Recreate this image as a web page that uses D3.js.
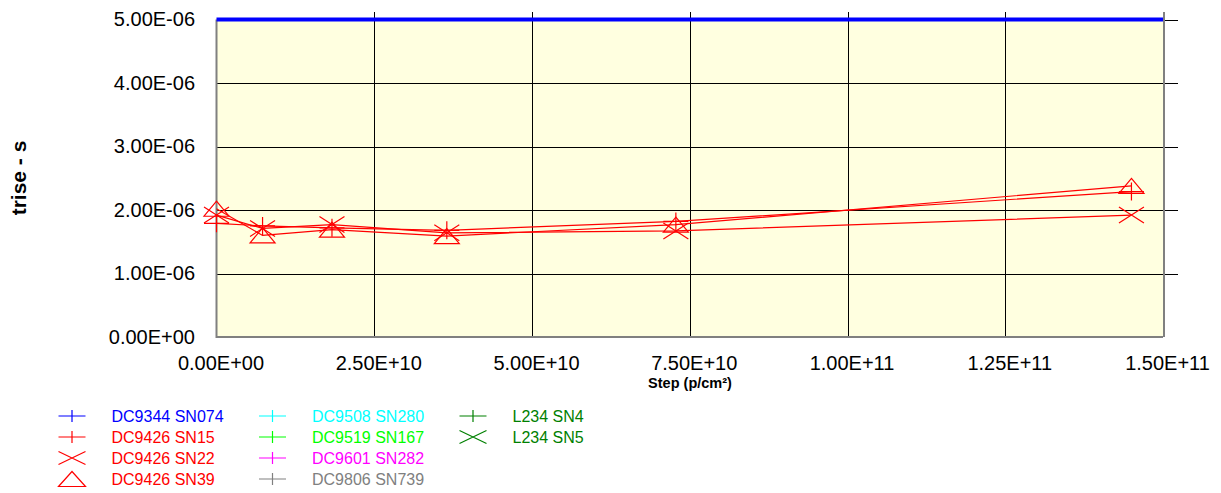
<!DOCTYPE html>
<html>
<head>
<meta charset="utf-8">
<script src="https://cdn.jsdelivr.net/npm/d3@7"></script>
<style>
  html, body { margin: 0; padding: 0; background: #fff; }
  svg { display: block; font-family: "Liberation Sans", Arial, sans-serif; }
</style>
</head>
<body>
<svg id="chart" width="1221" height="493"></svg>
<script>
// ---- data ----
const xSteps = [0, 7.3e9, 1.83e10, 3.65e10, 7.28e10, 1.45e11];
const sn15 = [1.79e-6, 1.75e-6, 1.72e-6, 1.68e-6, 1.82e-6, 2.29e-6];
const sn22 = [1.92e-6, 1.71e-6, 1.77e-6, 1.64e-6, 1.67e-6, 1.92e-6];
const sn39 = [2.02e-6, 1.60e-6, 1.69e-6, 1.59e-6, 1.77e-6, 2.38e-6];
const limitX = [0, 1.5e11];
const sn074 = [5e-6, 5e-6];

const xTicks = [0, 2.5e10, 5e10, 7.5e10, 1e11, 1.25e11, 1.5e11];
const yTicks = [0, 1e-6, 2e-6, 3e-6, 4e-6, 5e-6];

const legendNames = ["DC9344 SN074", "DC9426 SN15", "DC9426 SN22", "DC9426 SN39",
  "DC9508 SN280", "DC9519 SN167", "DC9601 SN282", "DC9806 SN739", "L234 SN4", "L234 SN5"];
const legendColors = ["#0000ff", "#ff0000", "#ff0000", "#ff0000",
  "#00ffff", "#00ff00", "#ff00ff", "#808080", "#008000", "#008000"];
const legendMarkers = ["plus", "plus", "cross", "tri", "plus", "plus", "plus", "plus", "plus", "cross"];

// ---- layout ----
const svg = d3.select("#chart");
const L = 216.5, R = 1163, T = 19.5, B = 337;
const x = d3.scaleLinear().domain([0, 1.5e11]).range([L, R]);
const y = d3.scaleLinear().domain([0, 5e-6]).range([B, T]);

function fmt(v) {
  const [m, e] = v.toExponential(2).split("e");
  const sign = e[0];
  const digits = e.slice(1).padStart(2, "0");
  return m + "E" + sign + digits;
}

// plot background
svg.append("rect").attr("x", L).attr("y", T).attr("width", R - L).attr("height", B - T)
  .attr("fill", "#ffffe0");

// horizontal gridlines + y labels
const yAxis = d3.axisLeft(y).tickValues(yTicks).tickFormat(fmt)
  .tickSizeInner(-(1178 - L)).tickSizeOuter(0).tickPadding(21.5);
const gy = svg.append("g").attr("transform", `translate(${L},0)`).call(yAxis);
gy.select(".domain").remove();
gy.selectAll(".tick line").attr("stroke", "#000").attr("stroke-width", 1)
  .attr("shape-rendering", "crispEdges")
  .filter(d => d === 0).remove();
gy.selectAll(".tick text").attr("font-size", 20).attr("fill", "#000")
  .attr("font-family", "Liberation Sans, Arial, sans-serif").attr("dy", "0.30em");

// vertical gridlines + x labels
const xAxis = d3.axisBottom(x).tickValues(xTicks).tickFormat(fmt)
  .tickSizeInner(-(B - 12)).tickSizeOuter(0).tickPadding(19);
const gx = svg.append("g").attr("transform", `translate(0,${B})`).call(xAxis);
gx.select(".domain").remove();
gx.selectAll(".tick line").attr("stroke", d => d === 1.5e11 ? "#808080" : "#000")
  .attr("stroke-width", d => d === 1.5e11 ? 2 : 1)
  .attr("shape-rendering", "crispEdges")
  .filter(d => d === 0).remove();
gx.selectAll(".tick text").attr("font-size", 20).attr("fill", "#000")
  .attr("font-family", "Liberation Sans, Arial, sans-serif").attr("dx", 4);

// left and bottom border
svg.append("path")
  .attr("d", `M${L},${T} V${B} H${R}`)
  .attr("fill", "none").attr("stroke", "#808080").attr("stroke-width", 2);

// ---- markers ----
function markerPath(type, cx, cy, w, h) {
  const hw = w / 2, hh = h / 2;
  if (type === "plus") return `M${cx - hw},${cy} H${cx + hw} M${cx},${cy - hh} V${cy + hh}`;
  if (type === "cross") return `M${cx - hw},${cy - hh} L${cx + hw},${cy + hh} M${cx - hw},${cy + hh} L${cx + hw},${cy - hh}`;
  return `M${cx},${cy - hh} L${cx + hw},${cy + hh} L${cx - hw},${cy + hh} Z`;
}

const series = [
  { vals: sn15, marker: "plus", h: 18 },
  { vals: sn22, marker: "cross", h: 16 },
  { vals: sn39, marker: "tri", h: 15 }
];

const line = d3.line().x(d => x(d[0])).y(d => y(d[1]));

series.forEach(s => {
  const pts = xSteps.map((xv, i) => [xv, s.vals[i]]);
  svg.append("path").attr("d", line(pts)).attr("fill", "none")
    .attr("stroke", "#ff0000").attr("stroke-width", 1.2);
  svg.append("g").selectAll("path").data(pts).join("path")
    .attr("d", d => markerPath(s.marker, x(d[0]), y(d[1]), 25, s.h))
    .attr("fill", "none").attr("stroke", "#ff0000").attr("stroke-width", 1.2);
});

// blue limit line
svg.append("path").attr("d", line(limitX.map((xv, i) => [xv, sn074[i]])))
  .attr("fill", "none").attr("stroke", "#0000ff").attr("stroke-width", 4);

// ---- axis titles ----
svg.append("text").attr("transform", "translate(26,178) rotate(-90)")
  .attr("text-anchor", "middle").attr("font-size", 21).attr("font-weight", "bold")
  .text("trise - s");
svg.append("text").attr("x", 690).attr("y", 388)
  .attr("text-anchor", "middle").attr("font-size", 14.5).attr("font-weight", "bold")
  .text("Step (p/cm²)");

// ---- legend ----
const lg = svg.append("g");
legendNames.forEach((name, i) => {
  const col = Math.floor(i / 4), row = i % 4;
  const mx = 72 + col * 200.5, cy = 416 + row * 21;
  const mh = legendMarkers[i] === "tri" ? 15 : (legendMarkers[i] === "cross" ? 13 : 12);
  lg.append("path").attr("d", markerPath(legendMarkers[i], mx, cy, 27, mh))
    .attr("fill", "none").attr("stroke", legendColors[i]).attr("stroke-width", 1.2);
  lg.append("text").attr("x", mx + 39.5).attr("y", cy + 5.8)
    .attr("font-size", 16).attr("fill", legendColors[i]).text(name);
});
</script>
</body>
</html>
